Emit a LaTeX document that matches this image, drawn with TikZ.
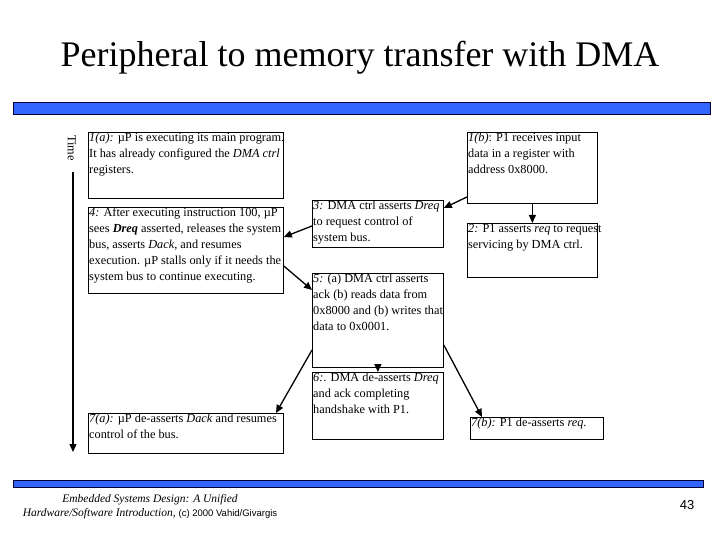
\documentclass[tikz,border=0pt]{standalone}
\usepackage{fontspec}
\setmainfont{Liberation Serif}
\newfontfamily\sansf{Liberation Sans}
\usetikzlibrary{arrows.meta}
\definecolor{barblue}{RGB}{51,102,255}
\begin{document}
\begin{tikzpicture}[x=1pt,y=-1pt,
  bx/.style={draw,line width=0.8pt,anchor=north west,inner sep=0pt},
  txt/.style={anchor=north west,inner sep=1pt,align=left,font=\fontsize{12.3}{16}\selectfont},
  arr/.style={line width=1.3pt,-{Triangle[length=8pt,width=7pt]}},
  bar/.style={draw=black!80!blue,line width=0.8pt,fill=barblue}]
\useasboundingbox (0,0) rectangle (720,540);
\node (title) at (360,58) {\fontsize{36}{40}\selectfont Peripheral to memory transfer with DMA};
\draw[bar] (13,102) rectangle (710,114);
\draw[bar] (13,480) rectangle (703,487);
% boxes
\node[bx,minimum width=195pt,minimum height=66pt] (b1a) at (88,132) {};
\node[bx,minimum width=195pt,minimum height=86pt] (b4) at (88,207) {};
\node[bx,minimum width=195pt,minimum height=40pt] (b7a) at (88,413) {};
\node[bx,minimum width=131pt,minimum height=47pt] (b3) at (312,200) {};
\node[bx,minimum width=131pt,minimum height=94pt] (b5) at (312,273) {};
\node[bx,minimum width=131pt,minimum height=67pt] (b6) at (312,372) {};
\node[bx,minimum width=130pt,minimum height=71pt] (b1b) at (467,132) {};
\node[bx,minimum width=130pt,minimum height=54pt] (b2) at (467,223) {};
\node[bx,minimum width=133pt,minimum height=22pt] (b7b) at (470,417) {};
% texts
\node[txt] (t1a) at (b1a.north west) {\textit{1(a):} µP is executing its main program.\\It has already configured the \textit{DMA ctrl}\\registers.};
\node[txt] (t4) at (b4.north west) {\textit{4:} After executing instruction 100, µP\\sees \textbf{\textit{Dreq}} asserted, releases the system\\bus, asserts \textit{Dack}, and resumes\\execution. µP stalls only if it needs the\\system bus to continue executing.};
\node[txt] (t7a) at (b7a.north west) {\textit{7(a):} µP de-asserts \textit{Dack} and resumes\\control of the bus.};
\node[txt] (t3) at (b3.north west) {\textit{3:} DMA ctrl asserts \textit{Dreq}\\to request control of\\system bus.};
\node[txt] (t5) at (b5.north west) {\textit{5:} (a) DMA ctrl asserts\\ack (b) reads data from\\0x8000 and (b) writes that\\data to 0x0001.};
\node[txt] (t6) at (b6.north west) {\textit{6:}. DMA de-asserts \textit{Dreq}\\and ack completing\\handshake with P1.};
\node[txt] (t1b) at (b1b.north west) {\textit{1(b)}: P1 receives input\\data in a register with\\address 0x8000.};
\node[txt] (t2) at (b2.north west) {\textit{2:} P1 asserts \textit{req} to request\\servicing by DMA ctrl.};
\node[txt] (t7b) at (b7b.north west) {\textit{7(b):} P1 de-asserts \textit{req}.};
% time
\node[rotate=-90,font=\fontsize{12.3}{14}\selectfont,inner sep=1pt] (time) at (72,148) {Time};
\coordinate (tend) at (73,452);
\draw[arr] (73,172) -- (tend);
% arrows
\draw[arr] (b1b.west |- 0,197) -- (b3.east |- 0,208);
\draw[arr] (b1b.south) -- (b2.north);
\draw[arr] (b3.west |- 0,226) -- (b4.east |- 0,237);
\draw[arr] (b4.east |- 0,266) -- (b5.west |- 0,290);
\draw[arr] (b5.south) -- (b6.north);
\draw[arr] (b5.east |- 0,345) -- (482,417);
\draw[arr] (b5.west |- 0,350) -- (276,413);
% footer
\node[align=center,font=\itshape\fontsize{11.5}{14}\selectfont] (foot) at (150,507) {Embedded Systems Design: A Unified\\Hardware/Software Introduction, {\upshape\sansf\fontsize{9.5}{14}\selectfont (c) 2000 Vahid/Givargis}};
\node[font=\sansf\fontsize{13}{15}\selectfont] (pg) at (687,505) {43};
\end{tikzpicture}
\end{document}
